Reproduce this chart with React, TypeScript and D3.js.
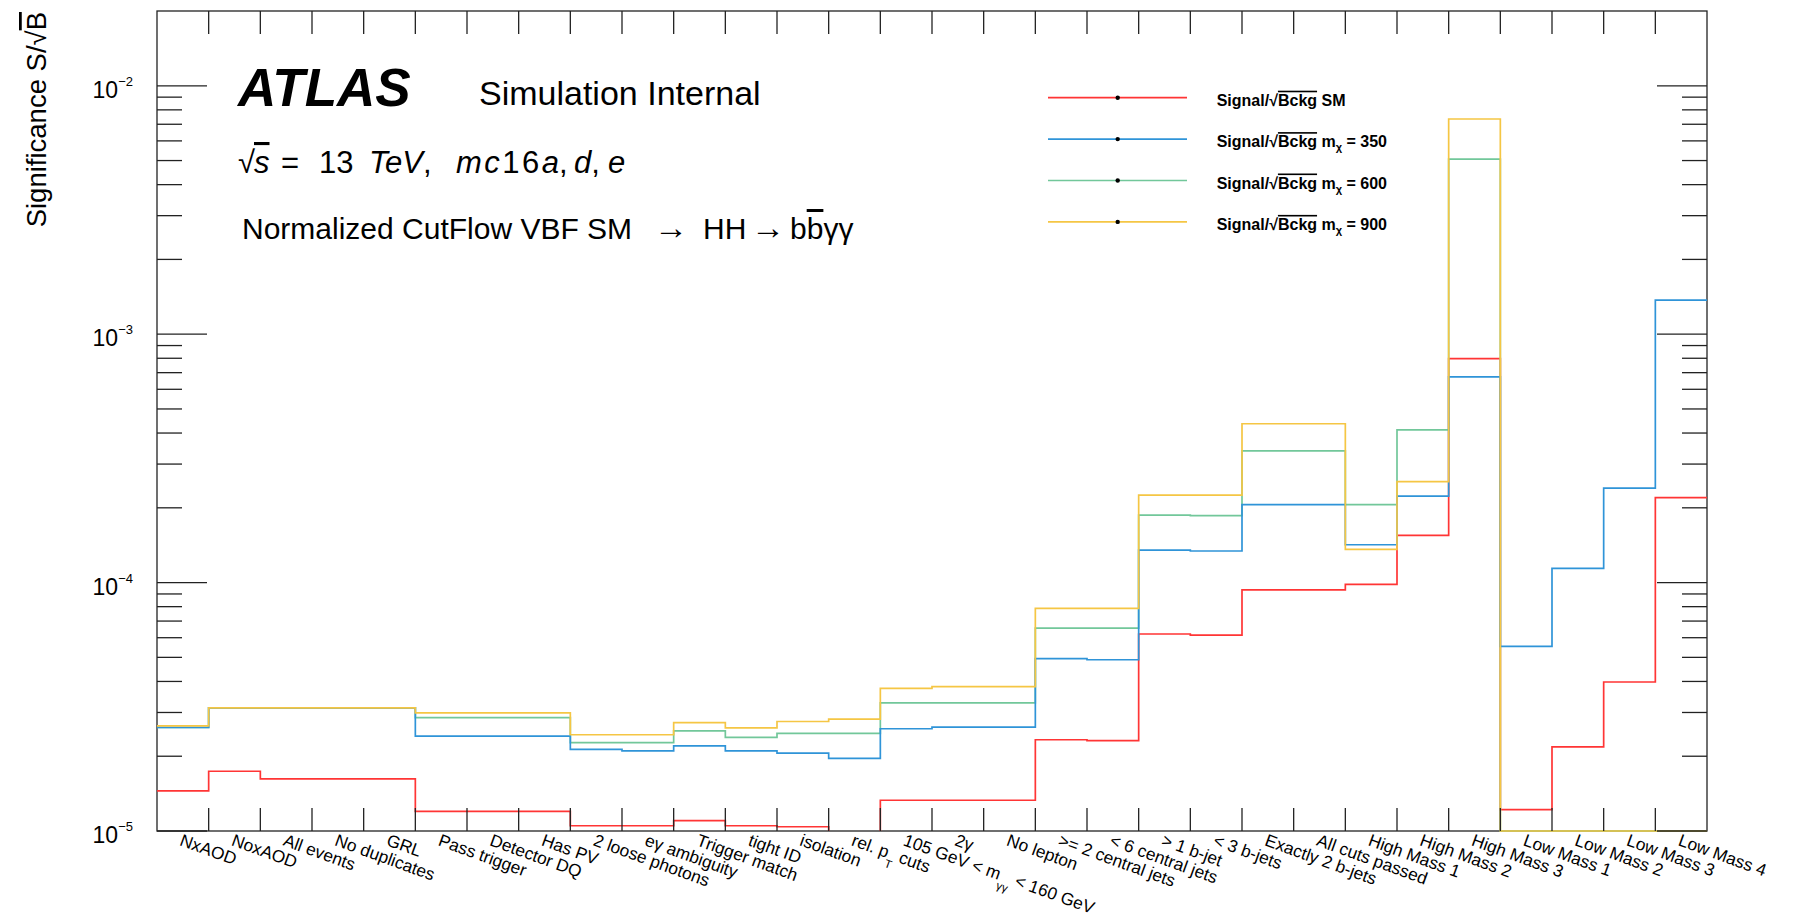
import React from 'react'
import * as d3 from 'd3'

// cut-flow bins (ROOT-style latex: _{...} is a subscript)
const cutLabels = [
  'NxAOD', 'NoxAOD', 'All events', 'No duplicates', 'GRL', 'Pass trigger',
  'Detector DQ', 'Has PV', '2 loose photons', 'eγ ambiguity', 'Trigger match',
  'tight ID', 'isolation', 'rel. p_{T} cuts', '105 GeV < m_{γγ} < 160 GeV', '2γ',
  'No lepton', '>= 2 central jets', '< 6 central jets', '> 1 b-jet', '< 3 b-jets',
  'Exactly 2 b-jets', 'All cuts passed', 'High Mass 1', 'High Mass 2', 'High Mass 3',
  'Low Mass 1', 'Low Mass 2', 'Low Mass 3', 'Low Mass 4',
]

// significance per bin, null = empty bin (not drawn)
const sigSM = [
  1.45e-5, 1.74e-5, 1.62e-5, 1.62e-5, 1.62e-5, 1.2e-5, 1.2e-5, 1.2e-5, 1.05e-5, 1.05e-5,
  1.1e-5, 1.05e-5, 1.04e-5, null, 1.33e-5, 1.33e-5, 1.33e-5, 2.33e-5, 2.31e-5, 6.21e-5,
  6.15e-5, 9.35e-5, 9.35e-5, 9.83e-5, 1.55e-4, 7.98e-4, 1.22e-5, 2.18e-5, 3.98e-5, 2.2e-4,
]
const sigM350 = [
  2.61e-5, 3.13e-5, 3.13e-5, 3.13e-5, 3.13e-5, 2.41e-5, 2.41e-5, 2.41e-5, 2.13e-5, 2.1e-5,
  2.2e-5, 2.1e-5, 2.06e-5, 1.96e-5, 2.58e-5, 2.62e-5, 2.62e-5, 4.94e-5, 4.89e-5, 1.35e-4,
  1.34e-4, 2.06e-4, 2.06e-4, 1.42e-4, 2.23e-4, 6.73e-4, 5.54e-5, 1.14e-4, 2.4e-4, 1.37e-3,
]
const sigM600 = [
  2.61e-5, 3.13e-5, 3.13e-5, 3.13e-5, 3.13e-5, 2.86e-5, 2.86e-5, 2.86e-5, 2.27e-5, 2.27e-5,
  2.53e-5, 2.38e-5, 2.47e-5, 2.47e-5, 3.28e-5, 3.28e-5, 3.28e-5, 6.56e-5, 6.56e-5, 1.87e-4,
  1.86e-4, 3.39e-4, 3.39e-4, 2.06e-4, 4.12e-4, 5.07e-3, 0, 0, 0, 0,
]
const sigM900 = [
  2.65e-5, 3.13e-5, 3.13e-5, 3.13e-5, 3.13e-5, 2.99e-5, 2.99e-5, 2.99e-5, 2.44e-5, 2.44e-5,
  2.73e-5, 2.6e-5, 2.76e-5, 2.82e-5, 3.75e-5, 3.81e-5, 3.81e-5, 7.88e-5, 7.88e-5, 2.25e-4,
  2.25e-4, 4.36e-4, 4.36e-4, 1.36e-4, 2.55e-4, 7.35e-3, 0, 0, 0, 0,
]

const legendSuffix = ['SM', '350', '600', '900']
const yDecades = [1e-5, 1e-4, 1e-3, 1e-2]

const series = [
  { name: 'SM', values: sigSM, color: '#ff3535' },
  { name: '600', values: sigM600, color: '#72c79a' },
  { name: '350', values: sigM350, color: '#2f94d8' },
  { name: '900', values: sigM900, color: '#f5c644' },
]
const legendColor = ['#ff3535', '#2f94d8', '#72c79a', '#f5c644']

const W = 1795
const H = 917
const margin = { top: 11, right: 88, bottom: 86, left: 157 }
const font = '"Liberation Sans", Arial, Helvetica, sans-serif'

const x = d3.scaleLinear().domain([0, cutLabels.length]).range([margin.left, W - margin.right])
const y = d3.scaleLog().domain([1e-5, 0.02]).range([H - margin.bottom, margin.top]).clamp(true)
const yMin = y.domain()[0]

type Pt = { b: number, v: number | null }

function histPoints(values: (number | null)[]): Pt[] {
  const pts: Pt[] = []
  values.forEach((v, i) => {
    if (v === null) {
      pts.push({ b: i, v: null })
      return
    }
    if (i > 0 && values[i - 1] === null) pts.push({ b: i, v: yMin })
    pts.push({ b: i, v })
    pts.push({ b: i + 1, v })
    if (i < values.length - 1 && values[i + 1] === null) pts.push({ b: i + 1, v: yMin })
  })
  return pts
}

const line = d3.line<Pt>()
  .defined(d => d.v !== null)
  .x(d => x(d.b))
  .y(d => y(d.v as number))

function latexParts(s: string) {
  return s.split(/_\{([^}]*)\}/).map((t, i) => ({ t, sub: i % 2 === 1 }))
}

function BinLabel({ text, i }: { text: string, i: number }) {
  const cx = x(i + 0.5) - 4
  const parts = latexParts(text)
  return (
    <text transform={`translate(${cx},${H - margin.bottom + 14}) rotate(20)`} fontSize={17.3}
      fontFamily={font} style={{ whiteSpace: 'pre' }}>
      {parts.map((p, k) => p.sub
        ? <tspan key={k} dy={9} fontSize={11.5}>{p.t}</tspan>
        : <tspan key={k} dy={k > 0 ? -9 : 0}>{p.t}</tspan>)}
    </text>
  )
}

export default function App() {
  const x0 = margin.left
  const x1 = W - margin.right
  const y0 = H - margin.bottom
  const y1 = margin.top
  const edges = d3.range(1, cutLabels.length)
  const minor: number[] = []
  yDecades.forEach(d => d3.range(2, 10).forEach(k => { if (d * k < 0.02) minor.push(d * k) }))

  return (
    <svg width={W} height={H} style={{ position: 'absolute', left: 0, top: 0, background: '#fff' }}>
      <rect x={0} y={0} width={W} height={H} fill="#fff" />
      <rect x={x0} y={y1} width={x1 - x0} height={y0 - y1} fill="none" stroke="#222" strokeWidth={1.3} />

      {series.map(s => (
        <path key={s.name} d={line(histPoints(s.values)) || ''} fill="none" stroke={s.color} strokeWidth={1.7} />
      ))}

      {/* x ticks, bottom and top */}
      {edges.map(e => (
        <g key={e} stroke="#222" strokeWidth={1.3}>
          <line x1={x(e)} x2={x(e)} y1={y0} y2={y0 - 23} />
          <line x1={x(e)} x2={x(e)} y1={y1} y2={y1 + 23} />
        </g>
      ))}
      {/* y ticks, left and right */}
      {yDecades.map(d => (
        <g key={d} stroke="#222" strokeWidth={1.3}>
          <line x1={x0} x2={x0 + 50} y1={y(d)} y2={y(d)} />
          <line x1={x1} x2={x1 - 50} y1={y(d)} y2={y(d)} />
        </g>
      ))}
      {minor.map(d => (
        <g key={d} stroke="#222" strokeWidth={1.3}>
          <line x1={x0} x2={x0 + 25} y1={y(d)} y2={y(d)} />
          <line x1={x1} x2={x1 - 25} y1={y(d)} y2={y(d)} />
        </g>
      ))}

      {yDecades.map(d => (
        <text key={d} x={133} y={y(d) + 12} textAnchor="end" fontSize={23} fontFamily={font}>
          10<tspan dy={-12} fontSize={13}>{'\u2212' + Math.round(-Math.log10(d))}</tspan>
        </text>
      ))}

      <text transform={`translate(46,${y1 + 1}) rotate(-90)`} textAnchor="end" fontSize={27.5} fontFamily={font}>
        Significance S/√<tspan style={{ textDecoration: 'overline' }}>B</tspan>
      </text>

      {cutLabels.map((t, i) => <BinLabel key={i} text={t} i={i} />)}

      {/* ATLAS label block */}
      <text x={238} y={106} fontSize={53} fontWeight="bold" fontStyle="italic" fontFamily={font}>ATLAS</text>
      <text x={479} y={105} fontSize={34} fontFamily={font}>Simulation Internal</text>
      <text y={173} fontSize={31} fontFamily={font} style={{ whiteSpace: 'pre' }}>
        <tspan x={238}>√</tspan>
        <tspan x={254} fontStyle="italic" style={{ textDecoration: 'overline' }}>s</tspan>
        <tspan x={281}>=</tspan>
        <tspan x={319}>13</tspan>
        <tspan x={369} fontStyle="italic">TeV</tspan>
        <tspan>,</tspan>
        <tspan x={456} fontStyle="italic" letterSpacing={2.5}>mc</tspan>
        <tspan letterSpacing={2.5}>16</tspan>
        <tspan fontStyle="italic">a</tspan>
        <tspan>,</tspan>
        <tspan x={574} fontStyle="italic">d</tspan>
        <tspan>,</tspan>
        <tspan x={608} fontStyle="italic">e</tspan>
      </text>
      <text y={239} fontSize={30} fontFamily={font} style={{ whiteSpace: 'pre' }}>
        <tspan x={242}>Normalized CutFlow VBF SM</tspan>
        <tspan x={654} fontSize={34}>→</tspan>
        <tspan x={703}>HH</tspan>
        <tspan x={751} fontSize={34}>→</tspan>
        <tspan x={790}>b</tspan>
        <tspan style={{ textDecoration: 'overline' }}>b</tspan>
        <tspan>γγ</tspan>
      </text>

      {/* legend */}
      {legendSuffix.map((s, i) => {
        const ly = 97.7 + i * 41.4
        return (
          <g key={s}>
            <line x1={1048} x2={1187} y1={ly} y2={ly} stroke={legendColor[i]} strokeWidth={1.7} />
            <circle cx={1117.7} cy={ly} r={2.2} fill="#000" />
            <text x={1216.7} y={ly + 8} fontSize={16} fontWeight="bold" fontFamily={font} style={{ whiteSpace: 'pre' }}>
              Signal/√<tspan style={{ textDecoration: 'overline' }}>Bckg</tspan>
              {i === 0
                ? <tspan> SM</tspan>
                : <>
                    <tspan> m</tspan>
                    <tspan dy={4} fontSize={11}>χ</tspan>
                    <tspan dy={-4}>{' = ' + s}</tspan>
                  </>}
            </text>
          </g>
        )
      })}
    </svg>
  )
}
